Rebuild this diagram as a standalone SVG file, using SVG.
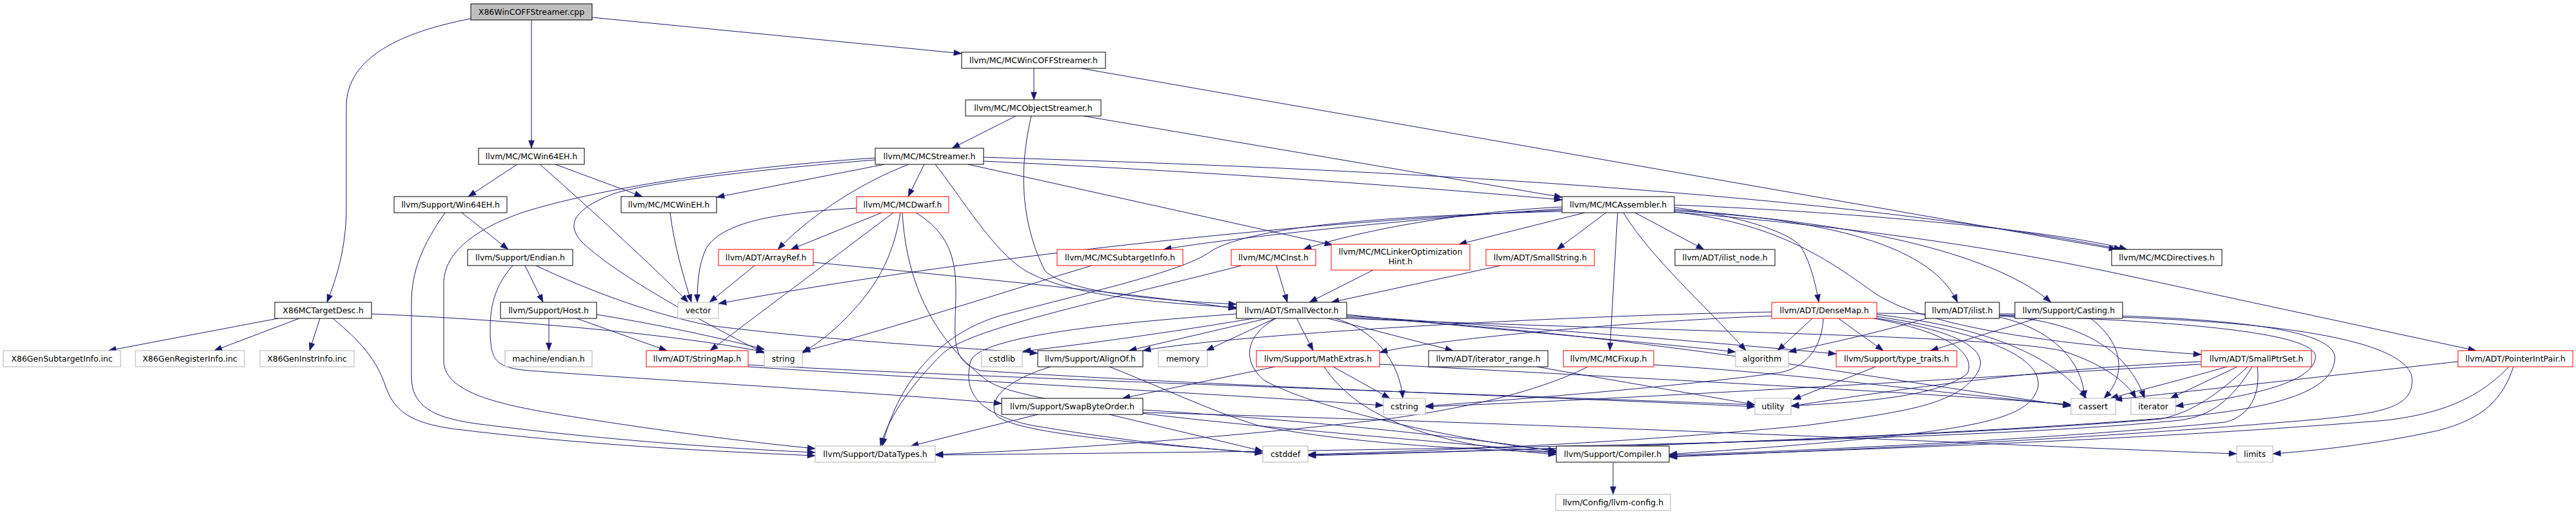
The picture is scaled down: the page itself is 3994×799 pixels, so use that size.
<svg xmlns="http://www.w3.org/2000/svg" width="3994" height="799" viewBox="0 0 3994 799">
<style>
.n rect{fill:#fff;stroke:#000;stroke-width:1}
.r rect{fill:#fff;stroke:#f00;stroke-width:1}
.g rect{fill:#fff;stroke:#bfbfbf;stroke-width:1.2}
.root rect{fill:#bfbfbf;stroke:#000;stroke-width:1}
text{font-family:"DejaVu Sans","Liberation Sans",sans-serif;font-size:12.5px;text-anchor:middle;fill:#000}
#edges path{fill:none;stroke:#191970;stroke-width:1;marker-end:url(#a)}
</style>
<defs>
<marker id="a" markerUnits="userSpaceOnUse" markerWidth="14" markerHeight="10" refX="12" refY="4.5" orient="auto" overflow="visible"><path d="M0,0 L12,4.5 L0,9 z" fill="#191970" stroke="#191970" stroke-width="0.5"/></marker>
</defs>
<rect width="3994" height="799" fill="#fff"/>
<g id="edges">
<path d="M918,27 L1491,83"/>
<path d="M824,31 L824,230"/>
<path d="M730,29 C620,50 537,90 537,165 L537,320 C537,385 522,430 507,469"/>
<path d="M1603,106 L1603,155"/>
<path d="M1676,106 L3282,387"/>
<path d="M1575,180 L1476,230"/>
<path d="M1680,180 L2422,306"/>
<path d="M1599,180 C1585,240 1575,330 1620,420 C1655,455 1800,466 1917,472"/>
<path d="M802,255 L726,305"/>
<path d="M861,255 L996,305"/>
<path d="M837,255 C900,310 1020,420 1067,469"/>
<path d="M716,330 L788,387"/>
<path d="M690,330 C655,380 638,420 638,470 L638,585 C638,640 690,652 760,660 C950,684 1150,697 1264,702"/>
<path d="M1039,330 C1045,380 1060,430 1072,469"/>
<path d="M1371,255 L1111,306"/>
<path d="M1433,255 L1408,305"/>
<path d="M1409,255 C1330,285 1250,340 1206,387"/>
<path d="M1450,255 C1490,305 1540,390 1590,420 C1660,460 1800,470 1917,477"/>
<path d="M1525,244 C2000,258 2800,290 3290,387"/>
<path d="M1525,250 C1900,268 2200,290 2422,310"/>
<path d="M1501,255 L2066,380"/>
<path d="M1357,248 C1150,265 1000,285 953,300 C900,320 870,345 905,378 C960,430 1100,505 1185,548"/>
<path d="M1357,245 C1100,262 900,300 806,331 C740,355 688,390 688,440 L688,560 C688,610 780,628 860,642 C1000,665 1150,685 1264,696"/>
<path d="M1367,330 L1226,387"/>
<path d="M1328,323 C1200,330 1120,345 1095,385 C1083,410 1081,440 1081,469"/>
<path d="M1385,330 L1101,544"/>
<path d="M1396,330 C1385,400 1358,450 1300,505 C1275,528 1258,538 1244,548"/>
<path d="M1399,330 C1405,430 1440,520 1530,590 C1600,640 2100,672 2413,702"/>
<path d="M1420,330 C1470,360 1482,400 1482,450 C1482,520 1470,560 1520,575 C1900,600 2500,620 2721,631"/>
<path d="M431,494 L168,544"/>
<path d="M464,494 L332,544"/>
<path d="M496,494 L480,544"/>
<path d="M576,487 C700,492 1000,510 1185,546"/>
<path d="M516,494 C560,530 585,560 598,600 C612,640 640,656 700,665 C900,690 1100,700 1264,707"/>
<path d="M814,412 L842,469"/>
<path d="M795,412 C770,440 760,470 760,510 C760,560 768,570 820,575 C1100,595 1400,612 1553,626"/>
<path d="M831,412 C900,445 1000,485 1100,505 C1300,530 1500,540 1609,548"/>
<path d="M851,493 L851,544"/>
<path d="M891,493 L1034,544"/>
<path d="M925,488 C1000,500 1100,520 1185,542"/>
<path d="M1170,412 L1100,469"/>
<path d="M1261,407 C1500,430 1800,460 1917,479"/>
<path d="M1160,569 C1400,585 1900,612 2145,629"/>
<path d="M1160,566 C1500,585 2300,612 2721,628"/>
<path d="M1693,412 C1550,455 1350,520 1244,545"/>
<path d="M1979,412 L1996,469"/>
<path d="M1925,412 C1700,470 1500,510 1460,550 C1420,590 1380,640 1365,692"/>
<path d="M2129,419 L2030,469"/>
<path d="M2327,412 L2064,469"/>
<path d="M2422,321 C2250,330 2100,360 2021,387"/>
<path d="M2457,330 L2262,379"/>
<path d="M2490,330 L2414,387"/>
<path d="M2422,324 C2200,338 1900,370 1804,387"/>
<path d="M2422,326 C2000,345 1500,400 1114,471"/>
<path d="M2422,328 C2150,335 1950,350 1880,388 C1840,420 1700,450 1550,490 C1450,520 1390,600 1368,692"/>
<path d="M2508,330 L2496,544"/>
<path d="M2517,330 C2560,400 2640,470 2707,544"/>
<path d="M2535,330 L2642,387"/>
<path d="M2596,322 C2700,335 2770,360 2790,380 C2805,400 2815,440 2820,469"/>
<path d="M2596,325 C2800,340 2990,370 3035,469"/>
<path d="M2596,327 C2900,345 3100,400 3180,469"/>
<path d="M2596,318 C2900,330 3200,360 3298,387"/>
<path d="M2596,329 C2900,355 3100,385 3300,428 L3839,544"/>
<path d="M2596,329 C2750,345 2830,400 2900,450 C2980,510 3200,535 3413,550"/>
<path d="M1949,493 C1850,510 1700,532 1586,545"/>
<path d="M1969,493 L1750,544"/>
<path d="M1979,493 L1870,544"/>
<path d="M1917,487 C1740,500 1520,520 1505,560 C1495,600 1505,640 1600,660 C1750,685 1850,695 1958,703"/>
<path d="M1980,493 C1930,520 1925,560 1960,590 C2050,640 2300,690 2413,699"/>
<path d="M2010,493 L2036,544"/>
<path d="M2055,493 L2253,544"/>
<path d="M2067,493 C2130,510 2170,560 2175,618"/>
<path d="M2088,488 C2300,510 2550,530 2691,546"/>
<path d="M2088,490 C2400,510 2700,535 2847,549"/>
<path d="M2088,492 C2500,515 2800,570 3211,630"/>
<path d="M2088,494 C2600,515 3100,520 3200,545 C3260,565 3295,590 3312,618"/>
<path d="M1977,569 L1740,618"/>
<path d="M2053,569 C2100,640 2200,690 2413,705"/>
<path d="M2067,569 L2155,618"/>
<path d="M2139,565 C2600,590 3000,610 3211,628"/>
<path d="M2811,493 L2756,544"/>
<path d="M2849,493 L2920,544"/>
<path d="M2747,484 C2400,490 1900,520 1772,544"/>
<path d="M2747,490 C2500,500 2200,530 2139,547"/>
<path d="M2827,493 C2825,540 2800,570 2760,578 C2600,600 2350,620 2210,630"/>
<path d="M2900,493 C3050,520 3060,560 3050,580 C3000,620 2850,625 2777,630"/>
<path d="M2905,493 C3080,520 3100,560 3040,605 C3000,630 2950,640 2800,660 C2500,690 2200,700 2028,705"/>
<path d="M2910,491 C3100,520 3165,560 3160,600 C3150,640 3100,660 2900,680 C2750,695 2650,700 2588,705"/>
<path d="M2910,488 C3100,510 3190,560 3235,618"/>
<path d="M2910,486 C3300,490 3590,510 3590,553 C3590,600 3450,620 3373,630"/>
<path d="M2990,493 C2900,520 2800,540 2773,546"/>
<path d="M3100,492 C3180,510 3230,560 3232,618"/>
<path d="M3100,490 C3250,500 3305,560 3325,618"/>
<path d="M3100,487 C3450,488 3620,510 3620,555 C3620,600 3550,630 3400,645 C3000,680 2300,700 2028,707"/>
<path d="M3100,489 C3600,490 3740,540 3740,590 C3740,630 3700,640 3600,650 C3200,685 2800,700 2588,709"/>
<path d="M3413,561 C3100,575 2850,620 2777,630"/>
<path d="M3413,565 C3000,590 2500,620 2210,631"/>
<path d="M3453,569 C3380,590 3300,610 3272,618"/>
<path d="M3469,569 L3365,618"/>
<path d="M3485,569 C3440,610 3400,640 3350,650 C3000,680 2300,700 2028,706"/>
<path d="M3492,569 C3460,620 3430,645 3380,652 C3000,690 2000,700 1450,706"/>
<path d="M3500,569 C3505,610 3490,645 3450,655 C3200,680 2800,700 2588,706"/>
<path d="M3811,561 L3278,620"/>
<path d="M3890,569 C3850,610 3800,640 3700,652 C3300,685 2800,700 2588,708"/>
<path d="M3897,569 C3880,620 3850,650 3780,668 C3680,690 3580,700 3524,704"/>
<path d="M1609,643 L1412,692"/>
<path d="M1720,643 L1958,700"/>
<path d="M1772,636 C2000,650 2300,680 2413,701"/>
<path d="M1772,640 C2500,660 3200,695 3468,704"/>
<path d="M1629,569 C1560,590 1530,620 1545,645 C1580,675 1800,690 1958,703"/>
<path d="M1720,569 C1800,600 1870,635 1950,660 C2100,690 2300,698 2413,702"/>
<path d="M2462,569 C2400,600 2300,630 2150,650 C1900,680 1600,700 1450,705"/>
<path d="M2564,566 C2800,580 3000,610 3211,628"/>
<path d="M2908,569 L2780,620"/>
<path d="M3161,493 L2993,544"/>
<path d="M3240,493 C3290,530 3300,580 3262,618"/>
<path d="M2383,569 C2500,590 2650,615 2721,628"/>
<path d="M2501,718 L2501,767"/>
</g>
<g id="n1" class="root"><rect x="730" y="6" width="188" height="25"/><text x="824" y="23">X86WinCOFFStreamer.cpp</text></g>
<g id="n2" class="n"><rect x="1491" y="81" width="223" height="25"/><text x="1602.5" y="98">llvm/MC/MCWinCOFFStreamer.h</text></g>
<g id="n3" class="n"><rect x="1497" y="155" width="210" height="25"/><text x="1602" y="172">llvm/MC/MCObjectStreamer.h</text></g>
<g id="n4" class="n"><rect x="742" y="230" width="164" height="25"/><text x="824" y="247">llvm/MC/MCWin64EH.h</text></g>
<g id="n5" class="n"><rect x="1357" y="230" width="168" height="25"/><text x="1441" y="247">llvm/MC/MCStreamer.h</text></g>
<g id="n6" class="n"><rect x="611" y="305" width="175" height="25"/><text x="698.5" y="322">llvm/Support/Win64EH.h</text></g>
<g id="n7" class="n"><rect x="963" y="305" width="148" height="25"/><text x="1037" y="322">llvm/MC/MCWinEH.h</text></g>
<g id="n8" class="r"><rect x="1328" y="305" width="143" height="25"/><text x="1399.5" y="322">llvm/MC/MCDwarf.h</text></g>
<g id="n9" class="n"><rect x="2422" y="305" width="174" height="25"/><text x="2509" y="322">llvm/MC/MCAssembler.h</text></g>
<g id="n10" class="n"><rect x="426" y="469" width="150" height="25"/><text x="501" y="486">X86MCTargetDesc.h</text></g>
<g id="n11" class="n"><rect x="725" y="387" width="163" height="25"/><text x="806.5" y="404">llvm/Support/Endian.h</text></g>
<g id="n12" class="r"><rect x="1114" y="387" width="147" height="25"/><text x="1187.5" y="404">llvm/ADT/ArrayRef.h</text></g>
<g id="n13" class="r"><rect x="1639" y="387" width="195" height="25"/><text x="1736.5" y="404">llvm/MC/MCSubtargetInfo.h</text></g>
<g id="n14" class="r"><rect x="1909" y="387" width="131" height="25"/><text x="1974.5" y="404">llvm/MC/MCInst.h</text></g>
<g id="n15" class="r"><rect x="2064" y="379" width="215" height="40"/><text x="2171.5" y="395">llvm/MC/MCLinkerOptimization</text><text x="2171.5" y="410">Hint.h</text></g>
<g id="n16" class="r"><rect x="2304" y="387" width="168" height="25"/><text x="2388" y="404">llvm/ADT/SmallString.h</text></g>
<g id="n17" class="n"><rect x="2597" y="387" width="155" height="25"/><text x="2674.5" y="404">llvm/ADT/ilist_node.h</text></g>
<g id="n18" class="n"><rect x="3274" y="387" width="171" height="25"/><text x="3359.5" y="404">llvm/MC/MCDirectives.h</text></g>
<g id="n19" class="n"><rect x="776" y="469" width="149" height="25"/><text x="850.5" y="486">llvm/Support/Host.h</text></g>
<g id="n20" class="g"><rect x="1051" y="469" width="63" height="25"/><text x="1082.5" y="486">vector</text></g>
<g id="n21" class="n"><rect x="1917" y="469" width="171" height="25"/><text x="2002.5" y="486">llvm/ADT/SmallVector.h</text></g>
<g id="n22" class="r"><rect x="2747" y="469" width="163" height="25"/><text x="2828.5" y="486">llvm/ADT/DenseMap.h</text></g>
<g id="n23" class="n"><rect x="2985" y="469" width="115" height="25"/><text x="3042.5" y="486">llvm/ADT/ilist.h</text></g>
<g id="n24" class="n"><rect x="3124" y="469" width="167" height="25"/><text x="3207.5" y="486">llvm/Support/Casting.h</text></g>
<g id="n25" class="g"><rect x="5" y="544" width="182" height="25"/><text x="96" y="561">X86GenSubtargetInfo.inc</text></g>
<g id="n26" class="g"><rect x="210" y="544" width="169" height="25"/><text x="294.5" y="561">X86GenRegisterInfo.inc</text></g>
<g id="n27" class="g"><rect x="403" y="544" width="146" height="25"/><text x="476" y="561">X86GenInstrInfo.inc</text></g>
<g id="n28" class="g"><rect x="783" y="544" width="135" height="25"/><text x="850.5" y="561">machine/endian.h</text></g>
<g id="n29" class="r"><rect x="1002" y="544" width="158" height="25"/><text x="1081" y="561">llvm/ADT/StringMap.h</text></g>
<g id="n30" class="g"><rect x="1185" y="544" width="59" height="25"/><text x="1214.5" y="561">string</text></g>
<g id="n31" class="g"><rect x="1522" y="544" width="63" height="25"/><text x="1553.5" y="561">cstdlib</text></g>
<g id="n32" class="n"><rect x="1609" y="544" width="163" height="25"/><text x="1690.5" y="561">llvm/Support/AlignOf.h</text></g>
<g id="n33" class="g"><rect x="1796" y="544" width="76" height="25"/><text x="1834" y="561">memory</text></g>
<g id="n34" class="r"><rect x="1948" y="544" width="191" height="25"/><text x="2043.5" y="561">llvm/Support/MathExtras.h</text></g>
<g id="n35" class="n"><rect x="2215" y="544" width="185" height="25"/><text x="2307.5" y="561">llvm/ADT/iterator_range.h</text></g>
<g id="n36" class="r"><rect x="2424" y="544" width="140" height="25"/><text x="2494" y="561">llvm/MC/MCFixup.h</text></g>
<g id="n37" class="g"><rect x="2691" y="544" width="82" height="25"/><text x="2732" y="561">algorithm</text></g>
<g id="n38" class="r"><rect x="2847" y="544" width="187" height="25"/><text x="2940.5" y="561">llvm/Support/type_traits.h</text></g>
<g id="n39" class="r"><rect x="3413" y="544" width="171" height="25"/><text x="3498.5" y="561">llvm/ADT/SmallPtrSet.h</text></g>
<g id="n40" class="r"><rect x="3811" y="544" width="178" height="25"/><text x="3900" y="561">llvm/ADT/PointerIntPair.h</text></g>
<g id="n41" class="n"><rect x="1553" y="618" width="219" height="25"/><text x="1662.5" y="635">llvm/Support/SwapByteOrder.h</text></g>
<g id="n42" class="g"><rect x="2145" y="618" width="65" height="25"/><text x="2177.5" y="635">cstring</text></g>
<g id="n43" class="g"><rect x="2721" y="618" width="56" height="25"/><text x="2749" y="635">utility</text></g>
<g id="n44" class="g"><rect x="3211" y="618" width="69" height="25"/><text x="3245.5" y="635">cassert</text></g>
<g id="n45" class="g"><rect x="3304" y="618" width="69" height="25"/><text x="3338.5" y="635">iterator</text></g>
<g id="n46" class="g"><rect x="1264" y="692" width="186" height="25"/><text x="1357" y="709">llvm/Support/DataTypes.h</text></g>
<g id="n47" class="g"><rect x="1958" y="692" width="70" height="25"/><text x="1993" y="709">cstddef</text></g>
<g id="n48" class="n"><rect x="2413" y="692" width="175" height="25"/><text x="2500.5" y="709">llvm/Support/Compiler.h</text></g>
<g id="n49" class="g"><rect x="3468" y="692" width="56" height="25"/><text x="3496" y="709">limits</text></g>
<g id="n50" class="g"><rect x="2412" y="767" width="178" height="25"/><text x="2501" y="784">llvm/Config/llvm-config.h</text></g>
</svg>
